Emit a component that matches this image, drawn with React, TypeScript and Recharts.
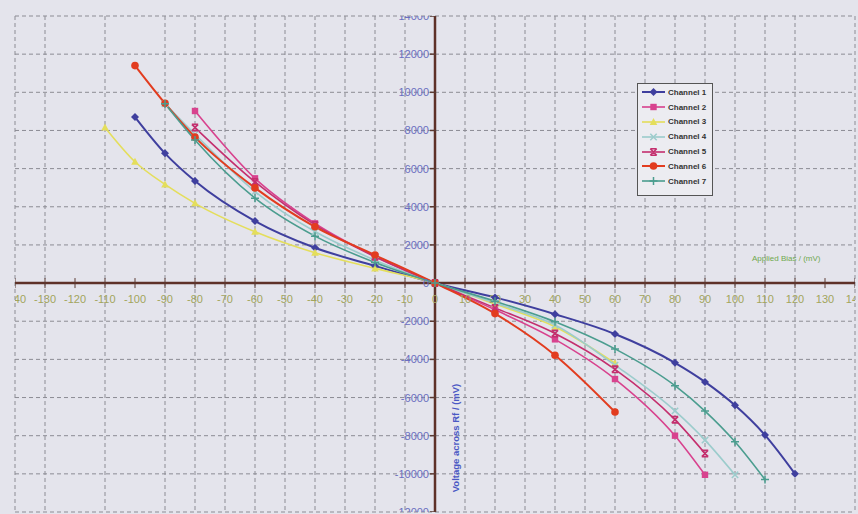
import React from 'react';
import {
  ComposedChart,
  Line,
  Scatter,
  XAxis,
  YAxis,
  CartesianGrid,
  ReferenceLine,
} from 'recharts';

// applied bias (mV) at which readings were taken
const biasMv = [-110, -100, -90, -80, -60, -40, -20, 0, 20, 40, 60, 80, 90, 100, 110, 120];

// voltage across Rf (mV), null where a channel has no reading
const channel1 = [null, 8700, 6800, 5350, 3250, 1850, 900, 0, -750, -1630, -2670, -4180, -5180, -6410, -7970, -10000];
const channel2 = [null, null, null, 9020, 5490, 3130, 1400, 0, -1400, -2950, -5030, -8000, -10050, null, null, null];
const channel3 = [8160, 6360, 5170, 4180, 2690, 1590, 770, 0, -1100, -2290, -4200, null, null, null, null, null];
const channel4 = [null, null, 9400, 7800, 4800, 2700, 1200, 0, -1050, -2200, -4300, -6700, -8230, -10050, null, null];
const channel5 = [null, null, null, 8150, 5300, 3050, 1380, 0, -1300, -2640, -4520, -7160, -8930, null, null, null];
const channel6 = [null, 11400, 9420, 7650, 4990, 2950, 1470, 0, -1600, -3780, -6760, null, null, null, null, null];
const channel7 = [null, null, 9400, 7500, 4450, 2460, 1080, 0, -950, -2030, -3450, -5380, -6710, -8320, -10300, null];

const xTickLabels = [-140, -130, -120, -110, -100, -90, -80, -70, -60, -50, -40, -30, -20, -10, 0, 10, 20, 30, 40, 50, 60, 70, 80, 90, 100, 110, 120, 130, 140];
const yTickLabels = [-12000, -10000, -8000, -6000, -4000, -2000, 0, 2000, 4000, 6000, 8000, 10000, 12000, 14000];

const channels = [
  { key: 'c1', name: 'Channel 1', values: channel1, color: '#3f3f9e', marker: 'diamond', width: 2 },
  { key: 'c2', name: 'Channel 2', values: channel2, color: '#d8428e', marker: 'square', width: 1.6 },
  { key: 'c3', name: 'Channel 3', values: channel3, color: '#e4de5c', marker: 'triangle', width: 1.6 },
  { key: 'c4', name: 'Channel 4', values: channel4, color: '#9ccccc', marker: 'x', width: 1.6 },
  { key: 'c5', name: 'Channel 5', values: channel5, color: '#c42f6e', marker: 'star', width: 1.6 },
  { key: 'c6', name: 'Channel 6', values: channel6, color: '#e23c1f', marker: 'circle', width: 2 },
  { key: 'c7', name: 'Channel 7', values: channel7, color: '#4b9d8f', marker: 'plus', width: 1.6 },
];

const tableData = biasMv.map((x, i) => {
  const row: Record<string, number | null> = { x };
  channels.forEach((c) => {
    row[c.key] = c.values[i];
  });
  return row;
});

const xTickPoints = xTickLabels.map((v) => ({ x: v, y: 0 }));
const yTickPoints = yTickLabels.map((v) => ({ x: 0, y: v }));

const FONT = '"Liberation Sans", Arial, sans-serif';

const MarkerShape = ({ kind, cx, cy, color }: { kind: string; cx: number; cy: number; color: string }) => {
  const s = 3.2;
  switch (kind) {
    case 'diamond':
      return <polygon points={`${cx},${cy - 4} ${cx + 4},${cy} ${cx},${cy + 4} ${cx - 4},${cy}`} fill={color} />;
    case 'square':
      return <rect x={cx - s} y={cy - s} width={2 * s} height={2 * s} fill={color} />;
    case 'triangle':
      return <polygon points={`${cx},${cy - 4} ${cx + 3.8},${cy + 3} ${cx - 3.8},${cy + 3}`} fill={color} />;
    case 'x':
      return (
        <path d={`M${cx - s},${cy - s}L${cx + s},${cy + s}M${cx - s},${cy + s}L${cx + s},${cy - s}`} stroke={color} strokeWidth={1.5} />
      );
    case 'star':
      return (
        <path
          d={`M${cx - s},${cy - s}L${cx + s},${cy + s}M${cx - s},${cy + s}L${cx + s},${cy - s}M${cx - s},${cy - s}L${cx + s},${cy - s}M${cx - s},${cy + s}L${cx + s},${cy + s}`}
          stroke={color}
          strokeWidth={1.6}
        />
      );
    case 'circle':
      return <circle cx={cx} cy={cy} r={3.8} fill={color} />;
    case 'plus':
      return <path d={`M${cx - 4},${cy}L${cx + 4},${cy}M${cx},${cy - 4}L${cx},${cy + 4}`} stroke={color} strokeWidth={1.5} />;
    default:
      return null;
  }
};

const makeDot = (kind: string, color: string) => (props: any) => {
  const { cx, cy, index } = props;
  if (cx == null || cy == null || props.value == null) return <g key={index} />;
  return (
    <g key={index}>
      <MarkerShape kind={kind} cx={cx} cy={cy} color={color} />
    </g>
  );
};

const XTick = (props: any) => {
  const { cx, cy, payload } = props;
  return (
    <g>
      <line x1={cx} x2={cx} y1={cy - 5} y2={cy + 5} stroke="#5b3a32" strokeWidth={1} />
      <text x={cx} y={cy + 20} textAnchor="middle" fontSize={11} fontFamily={FONT} fill="#a2a45c">
        {payload.x}
      </text>
    </g>
  );
};

const YTick = (props: any) => {
  const { cx, cy, payload } = props;
  return (
    <g>
      <line x1={cx - 5} x2={cx + 1} y1={cy} y2={cy} stroke="#5b3a32" strokeWidth={1.5} />
      <text x={cx - 6} y={cy + 4} textAnchor="end" fontSize={11} fontFamily={FONT} fill="#6a6fc0">
        {payload.y}
      </text>
    </g>
  );
};

const LegendBox = () => (
  <div
    style={{
      position: 'absolute',
      left: 637,
      top: 83,
      width: 76,
      height: 113,
      border: '1px solid #555',
      background: '#ececf1',
      fontFamily: FONT,
      fontSize: 8,
      fontWeight: 'bold',
      color: '#333',
      boxSizing: 'border-box',
      paddingTop: 1,
    }}
  >
    {channels.map((c) => (
      <div key={c.key} style={{ display: 'flex', alignItems: 'center', height: 14.8, whiteSpace: 'nowrap' }}>
        <svg width={25} height={10} style={{ marginLeft: 3, flex: 'none' }}>
          <line x1={1} x2={24} y1={5} y2={5} stroke={c.color} strokeWidth={c.width} />
          <MarkerShape kind={c.marker} cx={12.5} cy={5} color={c.color} />
        </svg>
        <span style={{ marginLeft: 2, whiteSpace: 'nowrap' }}>{c.name}</span>
      </div>
    ))}
  </div>
);

export default function App() {
  return (
    <div style={{ position: 'absolute', left: 0, top: 0, width: 858, height: 514, background: '#e4e4ec', overflow: 'hidden' }}>
      <ComposedChart
        width={858}
        height={514}
        data={tableData}
        margin={{ top: 16, right: 3, bottom: 2, left: 15 }}
      >
        <CartesianGrid stroke="#8c8c94" strokeDasharray="4 3" strokeWidth={1} />
        <XAxis
          dataKey="x"
          type="number"
          domain={[-140, 140]}
          ticks={xTickLabels}
          allowDataOverflow
          hide
        />
        <YAxis
          type="number"
          domain={[-12000, 14000]}
          ticks={yTickLabels}
          allowDataOverflow
          hide
        />
        <ReferenceLine x={0} stroke="#5e3128" strokeWidth={2.5} />
        <ReferenceLine y={0} stroke="#5e3128" strokeWidth={2.5} />
        <Scatter data={xTickPoints} dataKey="y" shape={XTick} isAnimationActive={false} legendType="none" />
        <Scatter data={yTickPoints} dataKey="y" shape={YTick} isAnimationActive={false} legendType="none" />
        {channels.map((c) => (
          <Line
            key={c.key}
            type="monotone"
            dataKey={c.key}
            name={c.name}
            stroke={c.color}
            strokeWidth={c.width}
            dot={makeDot(c.marker, c.color)}
            activeDot={false}
            isAnimationActive={false}
          />
        ))}
      </ComposedChart>
      <LegendBox />
      <div
        style={{
          position: 'absolute',
          left: 752,
          top: 254,
          fontFamily: FONT,
          fontSize: 8,
          color: '#6fa84e',
          whiteSpace: 'nowrap',
        }}
      >
        Applied Bias / (mV)
      </div>
      <div
        style={{
          position: 'absolute',
          left: 455,
          top: 438,
          transform: 'translate(-50%, -50%) rotate(-90deg)',
          fontFamily: FONT,
          fontSize: 9.5,
          fontWeight: 'bold',
          color: '#4a58c4',
          whiteSpace: 'nowrap',
        }}
      >
        Voltage across Rf / (mV)
      </div>
    </div>
  );
}
